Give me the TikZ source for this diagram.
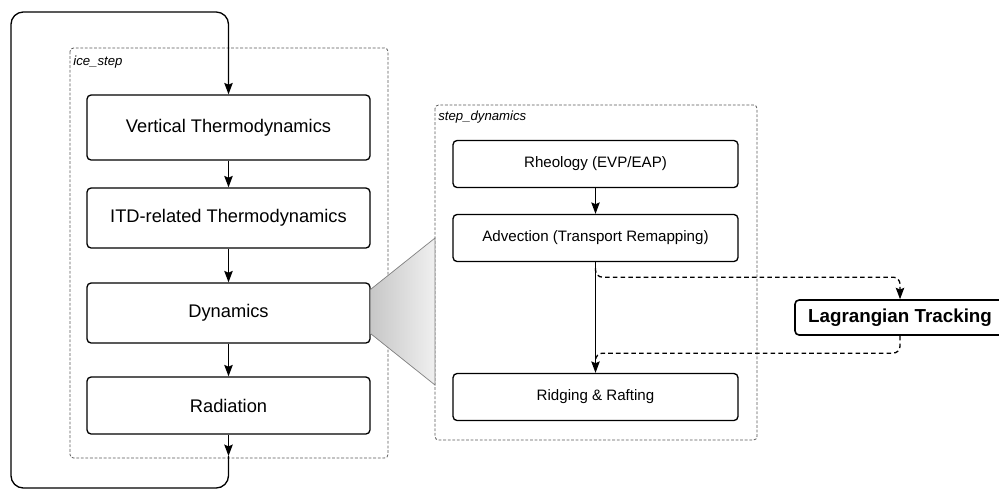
\documentclass[tikz,border=0pt]{standalone}
\usepackage{fontspec}
\setmainfont{Liberation Sans}
\usetikzlibrary{calc}
\usetikzlibrary{arrows.meta}

\begin{document}
\begin{tikzpicture}[x = 0.02cm, y = -0.02cm,
		bigbox/.style = {draw, rounded corners = 2.3pt, line width = 0.75pt, minimum width = 5.66cm, minimum height = 1.2cm, font = \fontsize{10.4}{12}\selectfont},
		smallbox/.style = {draw, rounded corners = 2.3pt, line width = 0.75pt, minimum width = 5.7cm, minimum height = 0.94cm, font = \fontsize{8.6}{10}\selectfont},
		frame/.style = {draw = black!65, line width = 0.45pt, dash pattern = on 1.6pt off 1pt, rounded corners = 2pt},
		flow/.style = {line width = 0.75pt, -{Stealth[length = 6.5pt, width = 4.8pt, inset = 1pt]}},
		flowdash/.style = {flow, dash pattern = on 2.6pt off 1.8pt, rounded corners = 4pt}]
				\useasboundingbox (0, 0) rectangle (999, 491);

				% frames
				\coordinate[](ia) at (70, 48);
				\coordinate[](ib) at (388, 458);
				\coordinate[](sa) at (435, 105);
				\coordinate[](sb) at (757, 440);
				\draw[frame] (ia) rectangle (ib);
				\draw[frame] (sa) rectangle (sb);
				\node[anchor = west, font = \fontsize{7.5}{9}\selectfont\itshape, inner sep = 0pt] (icelabel) at (73, 62) {ice\_step};
				\node[anchor = west, font = \fontsize{7.5}{9}\selectfont\itshape, inner sep = 0pt] (steplabel) at (438, 117) {step\_dynamics};

				% ice_step
				\node[bigbox, minimum height = 1.3cm] (vert) at (228.5, 127.5) {Vertical Thermodynamics};
				\node[bigbox] (itd) at (228.5, 218) {ITD-related Thermodynamics};
				\node[bigbox] (dyn) at (228.5, 313) {Dynamics};
				\node[bigbox, minimum height = 1.14cm] (rad) at (228.5, 405.5) {Radiation};

				% zoom wedge
				\shade[left color = black!22, right color = black!6, draw = black!50, line width = 0.4pt]
					($(dyn.north east)+(0, 7)$)--($(sa)+(0, 133)$)--($(sa)+(0, 280)$)--($(dyn.south east)-(0, 10)$)--cycle;

				% step_dynamics
				\node[smallbox] (rheo) at (595.5, 164) {Rheology (EVP/EAP)};
				\node[smallbox] (adv) at (595.5, 238) {Advection (Transport Remapping)};
				\node[smallbox] (ridge) at (595.5, 397) {Ridging \& Rafting};
				\node[draw, rounded corners = 2.3pt, line width = 0.9pt, minimum width = 4.2cm, minimum height = 0.7cm, font = \fontsize{10.7}{12}\selectfont\bfseries] (lag) at (900, 317.5) {Lagrangian Tracking};

				\draw[flow] (vert)--(itd);
				\draw[flow] (itd)--(dyn);
				\draw[flow] (dyn)--(rad);
				\draw[flow] (rheo)--(adv);
				\draw[flow] (adv)--(ridge);

				% tracking side loop
				\draw[flowdash] ($(adv.south)+(0, 6)$)--($(adv.south)+(0, 15)$)-|(lag.north);
				\draw[flowdash, -] (lag.south)|-($(adv.south)+(0, 91)$)--($(adv.south)+(0, 97)$);

				% time loop
				\coordinate[](loopa) at (228.5, 456);
				\coordinate[](loopb) at (228.5, 488);
				\coordinate[](loopc) at (11, 488);
				\coordinate[](loopd) at (11, 12);
				\coordinate[](loope) at (228.5, 12);
				\draw[flow] (rad)--(loopa);
				\draw[flow, rounded corners = 7pt] (loopa)--(loopb)--(loopc)--(loopd)--(loope)--(vert.north);
			\end{tikzpicture}
\end{document}
